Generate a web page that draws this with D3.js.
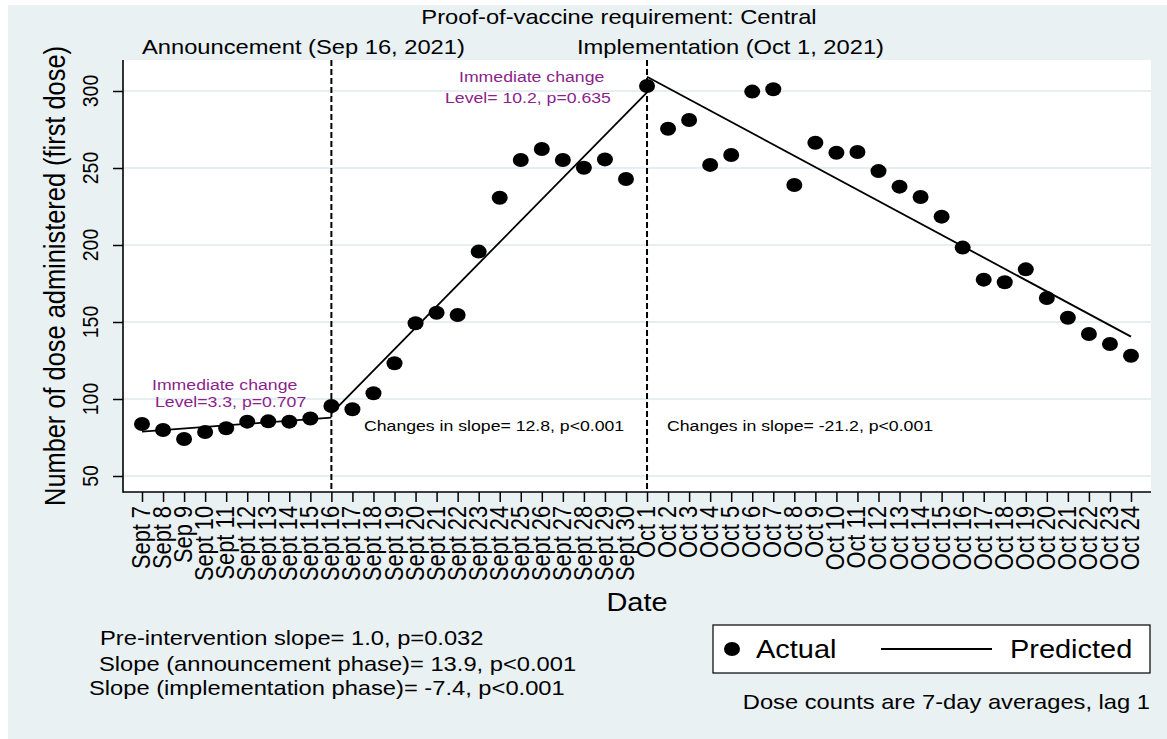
<!DOCTYPE html>
<html>
<head>
<meta charset="utf-8">
<script src="https://cdn.jsdelivr.net/npm/d3@7"></script>
<style>
  html, body { margin: 0; padding: 0; background: #ffffff; }
  svg { display: block; }
  text { font-family: "Liberation Sans", Arial, sans-serif; fill: #000; }
</style>
</head>
<body>
<svg id="chart" width="1167" height="739"></svg>
<script>
// ---- data ----
const dateLabels = [
  "Sept 7", "Sept 8", "Sep 9", "Sept 10", "Sept 11", "Sept 12", "Sept 13", "Sept 14",
  "Sept 15", "Sept 16", "Sept 17", "Sept 18", "Sept 19", "Sept 20", "Sept 21", "Sept 22",
  "Sept 23", "Sept 24", "Sept 25", "Sept 26", "Sept 27", "Sept 28", "Sept 29", "Sept 30",
  "Oct 1", "Oct 2", "Oct 3", "Oct 4", "Oct 5", "Oct 6", "Oct 7", "Oct 8",
  "Oct 9", "Oct 10", "Oct 11", "Oct 12", "Oct 13", "Oct 14", "Oct 15", "Oct 16",
  "Oct 17", "Oct 18", "Oct 19", "Oct 20", "Oct 21", "Oct 22", "Oct 23", "Oct 24"
];

// 7-day average first doses (lag 1)
const actualDoses = [
  83.8, 79.9, 74.0, 78.6, 81.0, 85.3, 85.5, 85.3,
  87.3, 95.5, 93.3, 103.7, 123.2, 149.2, 156.0, 154.5,
  195.7, 230.7, 255.2, 262.3, 255.2, 250.2, 255.6, 242.9,
  303.2, 275.5, 281.2, 252.0, 258.4, 299.6, 301.1, 239.0,
  266.4, 259.9, 260.4, 248.0, 237.9, 231.2, 218.4, 198.3,
  177.5, 175.8, 184.2, 165.6, 152.8, 142.2, 135.7, 128.1
];

// segmented regression fit: first/last date of each phase and fitted values there
const phaseStartDate = ["Sept 7", "Sept 16", "Oct 1"];
const phaseEndDate = ["Sept 16", "Oct 1", "Oct 24"];
const predictedStart = [78.8, 90.7, 309.3];
const predictedEnd = [87.9, 299.1, 140.5];

const yTicks = [50, 100, 150, 200, 250, 300];
const interventionDates = ["Sept 16", "Oct 1"];

const titleText = "Proof-of-vaccine requirement: Central";
const announcementText = "Announcement (Sep 16, 2021)";
const implementationText = "Implementation (Oct 1, 2021)";
const yTitle = "Number of dose administered (first dose)";
const xTitle = "Date";
const levelNotes = [["Immediate change", "Level=3.3, p=0.707"], ["Immediate change", "Level= 10.2, p=0.635"]];
const slopeChangeNotes = ["Changes in slope= 12.8, p<0.001", "Changes in slope= -21.2, p<0.001"];
const slopeNotes = [
  "Pre-intervention slope= 1.0, p=0.032",
  "Slope (announcement phase)= 13.9, p<0.001",
  "Slope (implementation phase)= -7.4, p<0.001"
];
const legendLabels = ["Actual", "Predicted"];
const footNote = "Dose counts are 7-day averages, lag 1";

// ---- layout ----
const W = 1167, H = 739;
const plot = { left: 123, right: 1151, top: 60, bottom: 492 };
const SX = 1.14;               // horizontal glyph stretch
const BG = "#e9f1f3";
const GRID = "#e6eef1";
const PURPLE = "#8b1f8b";

const svg = d3.select("#chart");

svg.append("rect").attr("x", 0).attr("y", 0).attr("width", W).attr("height", H).attr("fill", "#fff");
svg.append("rect").attr("x", 8).attr("y", 5).attr("width", W - 8).attr("height", H - 5).attr("fill", BG);
svg.append("rect")
  .attr("x", plot.left).attr("y", plot.top)
  .attr("width", plot.right - plot.left).attr("height", plot.bottom - plot.top)
  .attr("fill", "#fff");

const x = d3.scalePoint().domain(dateLabels).range([142, 1131]);
const y = d3.scaleLinear().domain([50, 300]).range([476, 91]);

function label(g, str, px, py, opts) {
  const o = Object.assign({ size: 20.8, anchor: "start", fill: "#000", rotate: 0 }, opts || {});
  return g.append("text")
    .attr("transform", `translate(${px},${py}) scale(${SX},1)` + (o.rotate ? ` rotate(${o.rotate})` : ""))
    .attr("text-anchor", o.anchor)
    .style("font-size", o.size + "px")
    .style("fill", o.fill)
    .text(str);
}

// gridlines
svg.append("g").selectAll("line").data(yTicks).join("line")
  .attr("x1", plot.left).attr("x2", plot.right)
  .attr("y1", d => y(d)).attr("y2", d => y(d))
  .attr("stroke", GRID).attr("stroke-width", 2);

// y axis
const yAxis = svg.append("g")
  .attr("transform", `translate(${plot.left},0)`)
  .call(d3.axisLeft(y).tickValues(yTicks).tickSize(10).tickFormat(""));
yAxis.select(".domain").remove();
yAxis.selectAll(".tick line").attr("stroke", "#000").attr("stroke-width", 1.5);
svg.append("line")
  .attr("x1", plot.left).attr("x2", plot.left)
  .attr("y1", plot.top).attr("y2", plot.bottom + 0.75)
  .attr("stroke", "#000").attr("stroke-width", 1.6);

const yLab = svg.append("g");
yTicks.forEach(v => label(yLab, String(v), 98, y(v), { size: 19.5, anchor: "middle", rotate: -90 }));

// x axis
const xAxis = svg.append("g")
  .attr("transform", `translate(0,${plot.bottom})`)
  .call(d3.axisBottom(x).tickSize(10).tickFormat(""));
xAxis.select(".domain").remove();
xAxis.selectAll(".tick line").attr("stroke", "#000").attr("stroke-width", 1.5);
svg.append("line")
  .attr("x1", plot.left).attr("x2", plot.right)
  .attr("y1", plot.bottom).attr("y2", plot.bottom)
  .attr("stroke", "#000").attr("stroke-width", 1.6);

const xLab = svg.append("g");
dateLabels.forEach(d => label(xLab, d, x(d) + 8, 506, { size: 21.8, anchor: "end", rotate: -90 }));

// intervention markers
svg.append("g").selectAll("line").data(interventionDates).join("line")
  .attr("x1", d => x(d)).attr("x2", d => x(d))
  .attr("y1", plot.top).attr("y2", plot.bottom)
  .attr("stroke", "#000").attr("stroke-width", 2)
  .attr("stroke-dasharray", "6,3");

// fitted segments
const segs = phaseStartDate.map((d, i) => [[d, predictedStart[i]], [phaseEndDate[i], predictedEnd[i]]]);
const lineGen = d3.line().x(p => x(p[0])).y(p => y(p[1]));
svg.append("g").selectAll("path").data(segs).join("path")
  .attr("d", lineGen)
  .attr("fill", "none").attr("stroke", "#000").attr("stroke-width", 1.8);

// observed points
svg.append("g").selectAll("ellipse").data(actualDoses).join("ellipse")
  .attr("cx", (d, i) => x(dateLabels[i]))
  .attr("cy", d => y(d))
  .attr("rx", 8).attr("ry", 7)
  .attr("fill", "#000");

// titles
const txt = svg.append("g");
label(txt, titleText, 619, 24, { anchor: "middle" });
label(txt, announcementText, 142, 54);
label(txt, implementationText, 577, 54);
label(txt, yTitle, 65, 276, { size: 25.4, anchor: "middle", rotate: -90 });
label(txt, xTitle, 637, 611, { size: 25.4, anchor: "middle" });

// annotations
label(txt, levelNotes[0][0], 152, 390, { size: 15.5, fill: PURPLE });
label(txt, levelNotes[0][1], 155, 407, { size: 15.5, fill: PURPLE });
label(txt, levelNotes[1][0], 459, 82, { size: 15.5, fill: PURPLE });
label(txt, levelNotes[1][1], 445, 103, { size: 15.5, fill: PURPLE });
label(txt, slopeChangeNotes[0], 364, 431, { size: 15.5 });
label(txt, slopeChangeNotes[1], 667, 431, { size: 15.5 });

// slope notes
label(txt, slopeNotes[0], 100, 645);
label(txt, slopeNotes[1], 99, 671);
label(txt, slopeNotes[2], 89, 695);

// legend
const lg = svg.append("g");
lg.append("rect").attr("x", 713).attr("y", 625).attr("width", 437).attr("height", 48)
  .attr("fill", "#fff").attr("stroke", "#000").attr("stroke-width", 1.2);
lg.append("ellipse").attr("cx", 732).attr("cy", 649).attr("rx", 8).attr("ry", 7).attr("fill", "#000");
label(lg, legendLabels[0], 756, 658, { size: 25.4 });
lg.append("line").attr("x1", 881).attr("x2", 992).attr("y1", 649).attr("y2", 649)
  .attr("stroke", "#000").attr("stroke-width", 1.8);
label(lg, legendLabels[1], 1010, 658, { size: 25.4 });

label(txt, footNote, 1150, 709, { anchor: "end" });
</script>
</body>
</html>
